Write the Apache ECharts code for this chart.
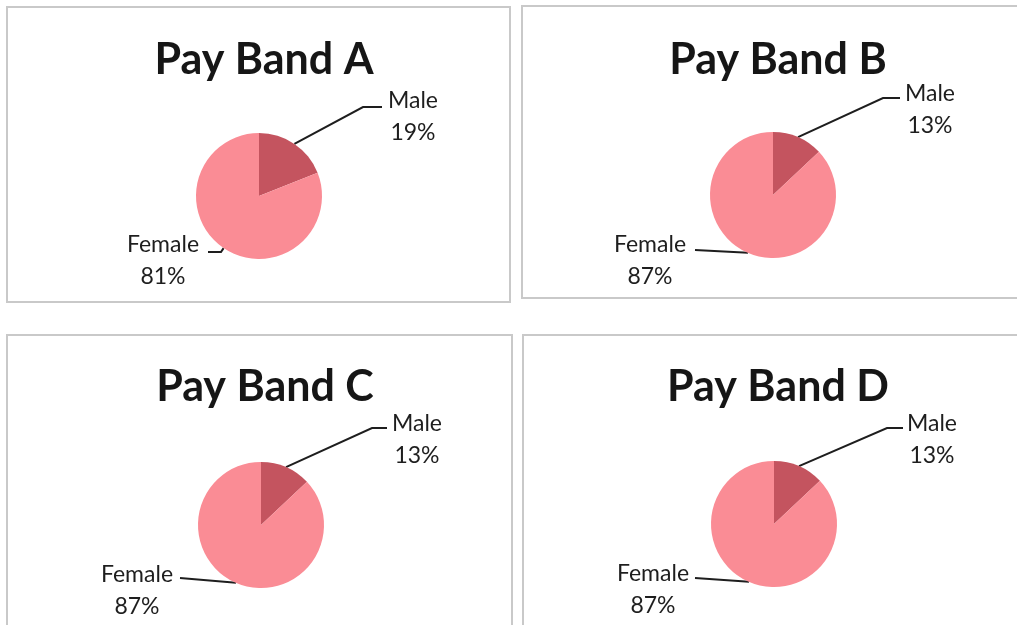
<!DOCTYPE html>
<html>
<head>
<meta charset="utf-8">
<script src="https://cdn.jsdelivr.net/npm/echarts@6/dist/echarts.min.js"></script>
<style>html,body{margin:0;padding:0;background:#fff;}#c{width:1017px;height:625px;}</style>
</head>
<body>
<div id="c"></div>
<script>
// ---- data ----
const bandTitles = ['Pay Band A', 'Pay Band B', 'Pay Band C', 'Pay Band D'];
const categories = ['Male', 'Female'];
const maleValues = [19, 13, 13, 13];
const femaleValues = [81, 87, 87, 87];

// ---- layout (pixels) ----
const centers = [[259, 196], [773, 195], [261, 525], [774, 524]];
const radius = 63;
const titlePos = [[259, 34], [773, 34], [260, 361], [773, 361]];
const panels = [[7, 7, 503, 295], [522, 6, 500, 292], [7, 335, 505, 300], [523, 335, 500, 300]];
// label offsets relative to pie centre: [labelCenter, lineEnd, elbow]
const labelOffsets = [
  { male: { lab: [154, -79], end: [123, -89], elbow: [104, -89] }, female: { lab: [-96, 65], end: [-51, 56], elbow: [-38, 56] } },
  { male: { lab: [157, -85], end: [127, -97], elbow: [110, -97] }, female: { lab: [-123, 66], end: [-78, 55], elbow: null } },
  { male: { lab: [156, -85], end: [126, -97], elbow: [111, -97] }, female: { lab: [-124, 66], end: [-81, 53], elbow: null } },
  { male: { lab: [158, -84], end: [129, -96], elbow: [113, -96] }, female: { lab: [-121, 66], end: [-79, 54], elbow: null } }
];
const colors = ['#C4545F', '#FA8C95'];
const font = 'Lato, "Open Sans", sans-serif';

const chart = echarts.init(document.getElementById('c'), null, { renderer: 'canvas' });

const titles = bandTitles.map((t, i) => ({
  text: t,
  left: titlePos[i][0],
  top: titlePos[i][1],
  textAlign: 'center',
  textStyle: { fontFamily: font, fontWeight: 'bold', fontSize: 43, color: '#161616' }
}));

const graphics = panels.map(p => ({
  type: 'rect',
  shape: { x: p[0], y: p[1], width: p[2], height: p[3] },
  style: { fill: 'none', stroke: '#c9c9c9', lineWidth: 2 },
  z: -1
}));

const series = bandTitles.map((t, i) => {
  const c = centers[i];
  return {
    type: 'pie',
    center: c,
    radius: radius,
    startAngle: 90,
    clockwise: true,
    silent: true,
    animation: false,
    data: [
      { name: categories[0], value: maleValues[i], itemStyle: { color: colors[0] } },
      { name: categories[1], value: femaleValues[i], itemStyle: { color: colors[1] } }
    ],
    itemStyle: { borderWidth: 0 },
    label: {
      show: true,
      position: 'outside',
      formatter: p => p.name + '\n' + Math.round(p.percent) + '%',
      fontFamily: font,
      fontSize: 23,
      lineHeight: 32,
      color: '#1e1e1e'
    },
    labelLine: { show: true, lineStyle: { color: '#1e1e1e', width: 2 } },
    labelLayout: function (params) {
      const o = labelOffsets[i][params.dataIndex === 0 ? 'male' : 'female'];
      const start = params.labelLinePoints ? params.labelLinePoints[0] : [c[0], c[1]];
      const pts = [start];
      if (o.elbow) pts.push([c[0] + o.elbow[0], c[1] + o.elbow[1]]);
      pts.push([c[0] + o.end[0], c[1] + o.end[1]]);
      return {
        x: c[0] + o.lab[0],
        y: c[1] + o.lab[1],
        align: 'center',
        verticalAlign: 'middle',
        labelLinePoints: pts
      };
    }
  };
});

chart.setOption({
  backgroundColor: '#ffffff',
  animation: false,
  title: titles,
  graphic: graphics,
  series: series
});
</script>
</body>
</html>
